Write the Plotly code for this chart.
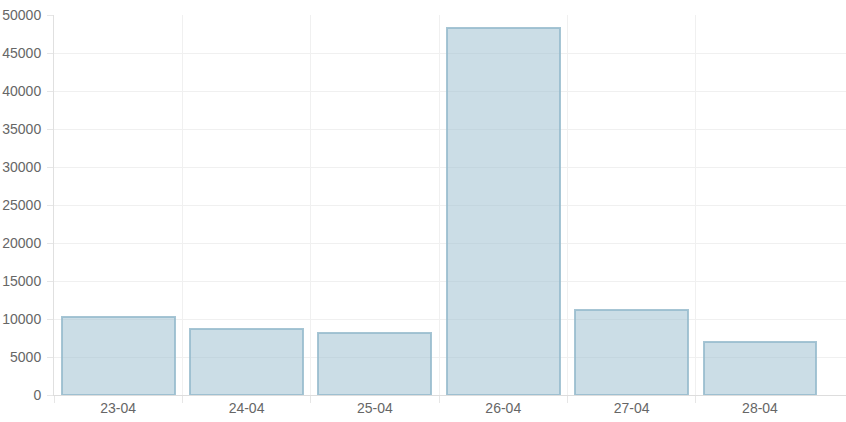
import plotly.graph_objects as go

categories = ["23-04", "24-04", "25-04", "26-04", "27-04", "28-04"]
values = [10300, 8700, 8150, 48300, 11200, 7000]
y_ticks = [0, 5000, 10000, 15000, 20000, 25000, 30000, 35000, 40000, 45000, 50000]

positions = list(range(len(categories)))
boundaries = [p - 0.5 for p in positions]
x_range = [-0.5, len(categories) - 0.5 + 0.17]

fig = go.Figure()
fig.add_trace(go.Bar(
    x=positions,
    y=values,
    width=0.88,
    marker=dict(color="rgba(151,187,205,0.5)",
                line=dict(color="rgba(151,187,205,0.85)", width=2)),
    hoverinfo="x+y",
))
# invisible trace to activate the boundary grid axis
fig.add_trace(go.Scatter(x=x_range, y=[0, 0], xaxis="x2",
                         mode="markers", marker=dict(opacity=0), hoverinfo="skip",
                         showlegend=False))

font = dict(family="Liberation Sans, Arial, sans-serif", size=14, color="#666666")

fig.update_layout(
    width=846, height=422,
    margin=dict(l=54, r=0, t=15, b=27),
    plot_bgcolor="white", paper_bgcolor="white",
    showlegend=False,
    font=font,
    bargap=0,
    xaxis=dict(
        range=x_range,
        tickvals=positions, ticktext=categories,
        showgrid=False, zeroline=False, ticks="",
        showline=True, linecolor="#dddddd", linewidth=1,
        tickfont=font, ticklabelstandoff=0,
    ),
    xaxis2=dict(
        overlaying="x", side="bottom",
        range=x_range,
        tickvals=boundaries, showticklabels=False,
        showgrid=True, gridcolor="#f0f0f0", gridwidth=1,
        ticks="outside", ticklen=7, tickcolor="#e6e6e6",
        zeroline=False, showline=False,
    ),
    yaxis=dict(
        range=[0, 50000],
        tickvals=y_ticks, ticktext=[str(v) for v in y_ticks],
        showgrid=True, gridcolor="#f0f0f0", gridwidth=1,
        ticks="outside", ticklen=6, tickcolor="#e6e6e6",
        zeroline=False, showline=True, linecolor="#e0e0e0", linewidth=1,
        tickfont=font, ticklabelstandoff=3,
    ),
)

fig.write_html("out.html", config={"displayModeBar": False},
               post_script="document.body.style.margin='0';")
